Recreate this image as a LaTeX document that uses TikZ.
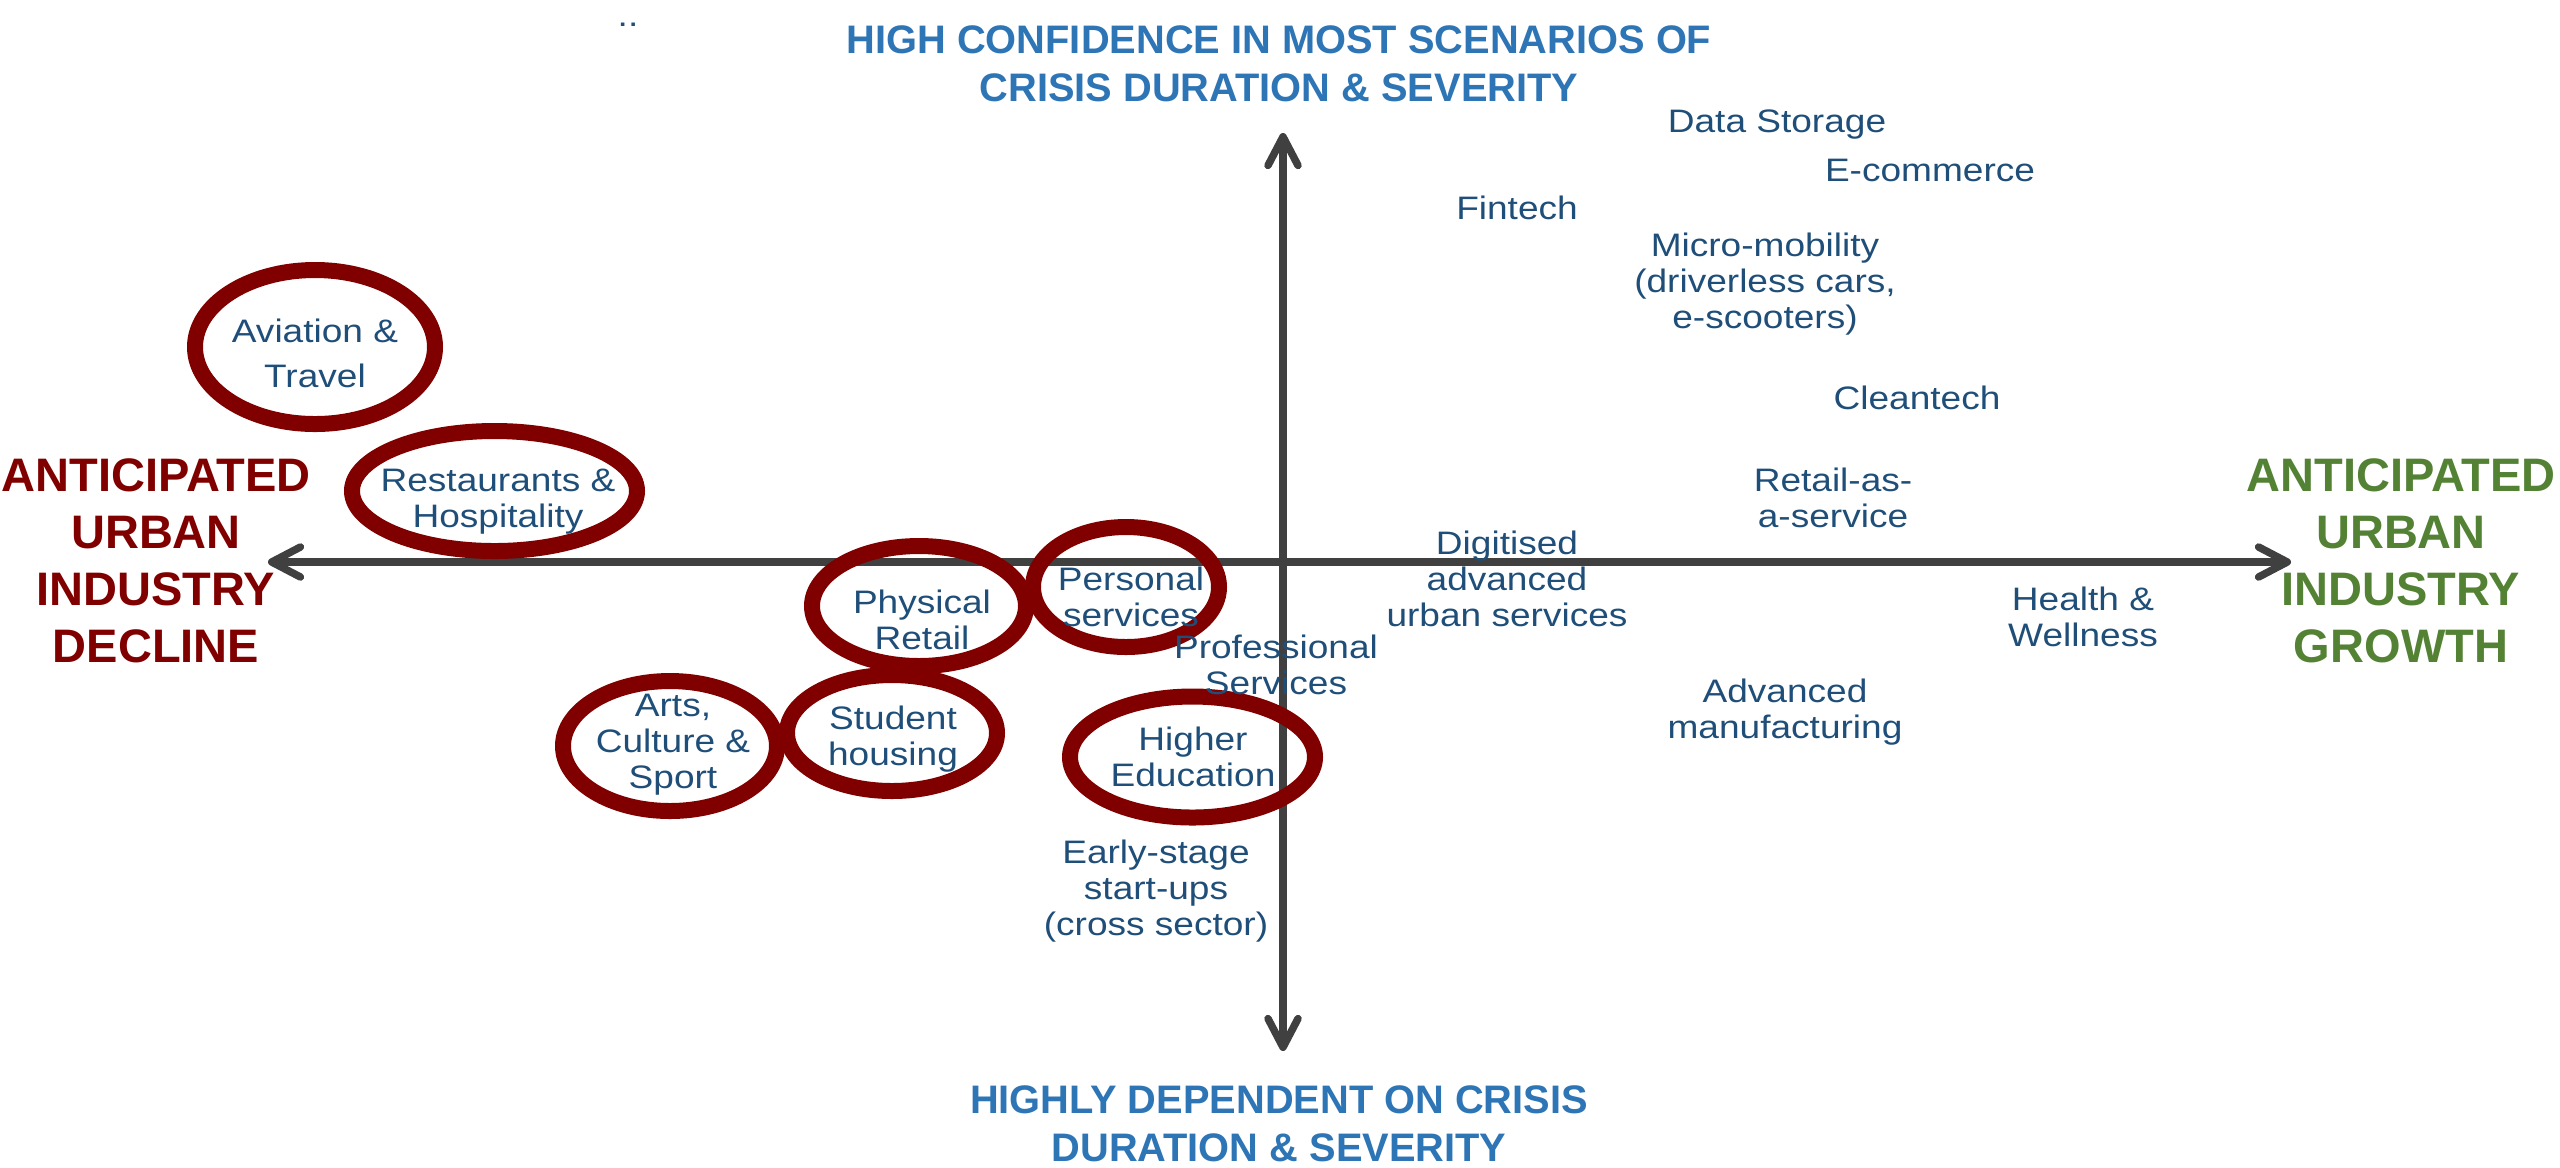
\documentclass[tikz,border=0pt]{standalone}
\usepackage{fontspec}
\setmainfont{Liberation Sans}
\newfontfamily\itemfam{Liberation Sans}[FakeStretch=1.14]
\usetikzlibrary{arrows.meta,shapes.geometric}
\newdimen\pxu \pxu=0.3pt
\newcommand\sx{\rule[-0.21em]{0pt}{0.94em}}
\newcommand\sxh{\rule{0pt}{0.73em}}
\definecolor{itemblue}{HTML}{1F4E79}
\definecolor{headblue}{HTML}{2E75B6}
\definecolor{dred}{HTML}{800000}
\definecolor{dgreen}{HTML}{548235}
\definecolor{axisgray}{HTML}{404040}
\tikzset{
  item/.style={font=\itemfam\fontsize{9.75}{10.8}\selectfont, text=itemblue, align=center, inner sep=0pt},
  ring/.style={draw=dred, line width=16\pxu, ellipse, inner sep=0pt},
  axislab/.style={font=\bfseries\fontsize{14.1}{17.1}\selectfont, align=center, inner sep=0pt},
  headlab/.style={font=\bfseries\fontsize{11.94}{14.4}\selectfont, text=headblue, align=center, inner sep=0pt},
  axisline/.style={draw=axisgray, line width=7.5\pxu, >={Straight Barb[length=8.6pt,width=9pt,round]}, <->}
}
\begin{document}
\begin{tikzpicture}[x=0.3pt,y=-0.3pt]
\useasboundingbox (0,0) rectangle (2560,1167);
% axes
\coordinate (L) at (268,562);
\coordinate (R) at (2291,562);
\coordinate (T) at (1283,133);
\coordinate (B) at (1283,1051);
\draw[axisline] (L) -- (R);
\draw[axisline] (T) -- (B);
% rings
\node[ring, minimum width=240\pxu, minimum height=154\pxu] (avr) at (315,347) {};
\node[ring, minimum width=285\pxu, minimum height=120\pxu] (rhr) at (494.5,491) {};
\node[ring, minimum width=214\pxu, minimum height=120\pxu] (prr) at (919,606) {};
\node[ring, minimum width=186\pxu, minimum height=120\pxu] (psr) at (1126,587) {};
\node[ring, minimum width=214\pxu, minimum height=130\pxu] (acr) at (670,746) {};
\node[ring, minimum width=210\pxu, minimum height=116\pxu] (shr) at (892,733) {};
\node[ring, minimum width=245\pxu, minimum height=121\pxu] (her) at (1192.5,757) {};
% circled items
\node[item] (avt) at (315,357) {\sx Aviation \&\\[9\pxu]\sx Travel};
\node[item] (rht) at (498,501.5) {\sx Restaurants \&\\\sx Hospitality};
\node[item] (prt) at (922,623.5) {\sx Physical\\\sx Retail};
\node[item] (pst) at (1131,600) {\sx Personal\\\sx services};
\node[item] (act) at (673,744.5) {\sx Arts,\\\sx Culture \&\\\sx Sport};
\node[item] (sht) at (893,739.5) {\sx Student\\\sx housing};
\node[item] (het) at (1193,760) {\sx Higher\\\sx Education};
% other items
\node[item] (ds) at (1777,124.2) {\sx Data Storage};
\node[item] (ec) at (1930,173.5) {\sx E-commerce};
\node[item] (ft) at (1517,211.5) {\sx Fintech};
\node[item] (mm) at (1765,284.2) {\sx Micro-mobility\\\sx(driverless cars,\\\sx e-scooters)};
\node[item] (ct) at (1917,401) {\sx Cleantech};
\node[item] (ra) at (1833,501.5) {\sx Retail-as-\\\sx a-service};
\node[item] (da) at (1507,582) {\sx Digitised\\\sx advanced\\\sx urban services};
\node[item] (hw) at (2083,620) {\sx Health \&\\\sx Wellness};
\node[item] (am) at (1785,712) {\sx Advanced\\\sx manufacturing};
\node[item] (ps) at (1276,668.5) {\sx Professional\\\sx Services};
\node[item] (es) at (1156,891) {\sx Early-stage\\\sx start-ups\\\sx(cross sector)};
\node[item, anchor=base] (dots) at (628,26) {..};
% axis labels
\node[axislab, text=dred] (decl) at (156,565) {\sx ANTICIPATED\\\sx URBAN\\\sx INDUSTRY\\\sx DECLINE};
\node[axislab, text=dgreen] (grow) at (2401,565) {\sx ANTICIPATED\\\sx URBAN\\\sx INDUSTRY\\\sx GROWTH};
\node[headlab] (top) at (1279,67.35) {\sx HIGH CONFIDENCE IN MOST SCENARIOS OF\\\sx CRISIS DURATION \& SEVERITY};
\node[headlab] (bot) at (1279,1123) {\sxh HIGHLY DEPENDENT ON CRISIS\\\sxh DURATION \& SEVERITY};
\end{tikzpicture}
\end{document}
